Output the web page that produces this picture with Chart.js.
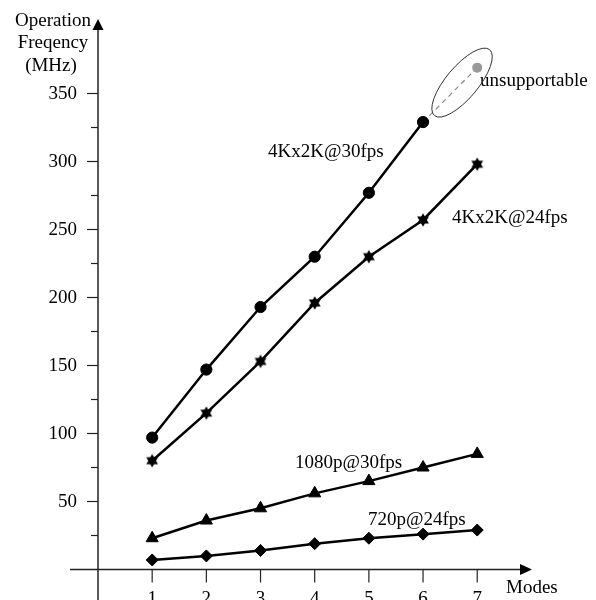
<!DOCTYPE html>
<html>
<head>
<meta charset="utf-8">
<script src="https://cdn.jsdelivr.net/npm/chart.js@4"></script>
<style>
html,body{margin:0;padding:0;background:#fff;}
#wrap{width:596px;height:600px;position:relative;}
</style>
</head>
<body>
<div id="wrap"><canvas id="c" width="596" height="600"></canvas></div>
<script>
// ---- data ----
const modes = [1, 2, 3, 4, 5, 6, 7];
const k4_30fps = [97, 147, 193, 230, 277, 329];
const k4_24fps = [80, 115, 153, 196, 230, 257, 298];
const p1080_30fps = [23, 36, 45, 56, 65, 75, 85];
const p720_24fps = [7, 10, 14, 19, 23, 26, 29];
const unsupModes = [6, 7];
const unsupValues = [329, 369];
const yMajorTicks = [50, 100, 150, 200, 250, 300, 350];
const yMinorTicks = [25, 75, 125, 175, 225, 275, 325];
const xTicks = [1, 2, 3, 4, 5, 6, 7];
const seriesLabels = ['4Kx2K@30fps', '4Kx2K@24fps', '1080p@30fps', '720p@24fps'];

const FONT = '19px "Liberation Serif", "DejaVu Serif", serif';

function pts(xs, ys) { return ys.map((v, i) => ({x: xs[i], y: v})); }

// hexagram point style
function makeStar() {
  const c = document.createElement('canvas');
  c.width = 16; c.height = 16;
  const g = c.getContext('2d');
  const r = 6.8, cx = 8, cy = 8;
  g.fillStyle = '#000';
  for (const off of [-Math.PI / 2, Math.PI / 2]) {
    g.beginPath();
    for (let k = 0; k < 3; k++) {
      const a = off + k * 2 * Math.PI / 3;
      const x = cx + r * Math.cos(a), y = cy + r * Math.sin(a);
      k ? g.lineTo(x, y) : g.moveTo(x, y);
    }
    g.closePath(); g.fill();
  }
  return c;
}
const starImg = makeStar();

const axesPlugin = {
  id: 'customAxes',
  afterDraw(chart) {
    const ctx = chart.ctx;
    const xs = chart.scales.x, ys = chart.scales.y;
    const x0 = xs.getPixelForValue(0), y0 = ys.getPixelForValue(0);
    ctx.save();
    ctx.strokeStyle = '#222';
    ctx.fillStyle = '#000';
    ctx.lineWidth = 1.5;
    // y axis
    ctx.beginPath(); ctx.moveTo(x0, 600); ctx.lineTo(x0, 28); ctx.stroke();
    ctx.beginPath(); ctx.moveTo(x0, 19); ctx.lineTo(x0 - 5.5, 30); ctx.lineTo(x0 + 5.5, 30); ctx.closePath(); ctx.fill();
    // x axis
    ctx.beginPath(); ctx.moveTo(70, y0); ctx.lineTo(522, y0); ctx.stroke();
    ctx.beginPath(); ctx.moveTo(532, y0); ctx.lineTo(520, y0 - 5.5); ctx.lineTo(520, y0 + 5.5); ctx.closePath(); ctx.fill();
    // y ticks
    ctx.lineWidth = 1.2;
    ctx.font = FONT;
    ctx.textAlign = 'right';
    ctx.textBaseline = 'alphabetic';
    yMajorTicks.forEach(v => {
      const y = ys.getPixelForValue(v);
      ctx.beginPath(); ctx.moveTo(x0 - 11, y); ctx.lineTo(x0, y); ctx.stroke();
      ctx.fillText(String(v), 77, y + 5.5);
    });
    yMinorTicks.forEach(v => {
      const y = ys.getPixelForValue(v);
      ctx.beginPath(); ctx.moveTo(x0 - 7, y); ctx.lineTo(x0, y); ctx.stroke();
    });
    // x ticks
    ctx.textAlign = 'center';
    xTicks.forEach(v => {
      const x = xs.getPixelForValue(v);
      ctx.beginPath(); ctx.moveTo(x, y0); ctx.lineTo(x, y0 + 13); ctx.stroke();
      ctx.fillText(String(v), x, 604);
    });
    // axis titles
    ctx.fillText('Operation', 53, 25.5);
    ctx.fillText('Freqency', 53, 48);
    ctx.fillText('(MHz)', 51, 70.5);
    ctx.textAlign = 'left';
    ctx.fillText('Modes', 506, 593);
    // series labels
    ctx.fillText(seriesLabels[0], 268, 157);
    ctx.fillText(seriesLabels[1], 452, 223);
    ctx.fillText(seriesLabels[2], 295, 468);
    ctx.fillText(seriesLabels[3], 368, 525);
    ctx.fillText('unsupportable', 480, 86);
    // ellipse around unsupportable point
    const ex = xs.getPixelForValue(6.72), ey = ys.getPixelForValue(358);
    ctx.strokeStyle = '#333';
    ctx.lineWidth = 1;
    ctx.beginPath();
    ctx.ellipse(ex, ey, 43, 16, -50 * Math.PI / 180, 0, Math.PI * 2);
    ctx.stroke();
    ctx.restore();
  }
};

new Chart(document.getElementById('c'), {
  type: 'line',
  data: {
    datasets: [
      {
        label: seriesLabels[0], data: pts(modes, k4_30fps),
        borderColor: '#000', backgroundColor: '#000', borderWidth: 2.5,
        pointStyle: 'circle', pointRadius: 5.6, pointBorderWidth: 1
      },
      {
        label: seriesLabels[1], data: pts(modes, k4_24fps),
        borderColor: '#000', backgroundColor: '#000', borderWidth: 2.5,
        pointStyle: starImg
      },
      {
        label: seriesLabels[2], data: pts(modes, p1080_30fps),
        borderColor: '#000', backgroundColor: '#000', borderWidth: 2.5,
        pointStyle: 'triangle', pointRadius: 7, pointBorderWidth: 1
      },
      {
        label: seriesLabels[3], data: pts(modes, p720_24fps),
        borderColor: '#000', backgroundColor: '#000', borderWidth: 2.5,
        pointStyle: 'rectRot', pointRadius: 6, pointBorderWidth: 1
      },
      {
        label: 'unsupportable', data: pts(unsupModes, unsupValues),
        borderColor: '#888', backgroundColor: '#999', borderWidth: 1.2,
        borderDash: [5, 4],
        pointRadius: [0, 5], pointBorderWidth: 0, pointStyle: 'circle'
      }
    ]
  },
  options: {
    responsive: false,
    animation: false,
    layout: { padding: { left: 98, right: 64.6, top: 25.5, bottom: 30.5 } },
    plugins: { legend: { display: false }, tooltip: { enabled: false } },
    scales: {
      x: { type: 'linear', min: 0, max: 8, display: false },
      y: { type: 'linear', min: 0, max: 400, display: false }
    },
    elements: { line: { tension: 0 } }
  },
  plugins: [axesPlugin]
});
</script>
</body>
</html>
